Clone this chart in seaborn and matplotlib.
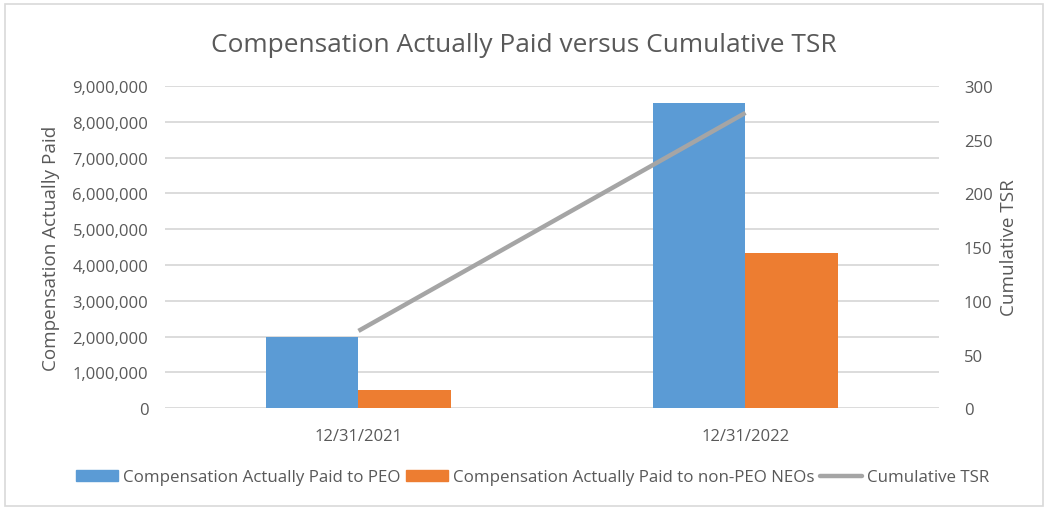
import matplotlib
matplotlib.use("Agg")
import matplotlib.pyplot as plt
import matplotlib.patches as mpatches
import numpy as np
import pandas as pd
import seaborn as sns

# data
dates = ["12/31/2021", "12/31/2022"]
peo_cap = [1980000, 8535000]
non_peo_cap = [520000, 4335000]
cumulative_tsr = [72, 275]

series_names = ["Compensation Actually Paid to PEO",
                "Compensation Actually Paid to non-PEO NEOs"]
tsr_name = "Cumulative TSR"

BLUE = "#5B9BD5"
ORANGE = "#ED7D31"
GRAY = "#A5A5A5"
TEXT = "#595959"
GRID = "#D9D9D9"

sns.set_theme(style="white")
plt.rcParams["font.family"] = ["Open Sans", "DejaVu Sans"]
plt.rcParams["text.color"] = TEXT
plt.rcParams["axes.labelcolor"] = TEXT
plt.rcParams["xtick.color"] = TEXT
plt.rcParams["ytick.color"] = TEXT

df = pd.DataFrame({
    "Date": dates * 2,
    "Value": peo_cap + non_peo_cap,
    "Series": [series_names[0]] * len(dates) + [series_names[1]] * len(dates),
})

fig = plt.figure(figsize=(10.48, 5.10), dpi=100)
ax = fig.add_axes([0.1574, 0.1975, 0.7386, 0.632])

sns.barplot(data=df, x="Date", y="Value", hue="Series",
            palette=[BLUE, ORANGE], width=0.477, gap=0, saturation=1,
            linewidth=0, ax=ax, legend=False)
ax.set_xlim(-0.5, len(dates) - 0.5)
ax.set_ylim(0, 9000000)
ax.set_yticks(np.arange(0, 9000001, 1000000))
ax.yaxis.set_major_formatter(matplotlib.ticker.StrMethodFormatter("{x:,.0f}"))
ax.grid(axis="y", color=GRID, linewidth=1.3)
ax.set_axisbelow(True)
for s in ax.spines.values():
    s.set_visible(False)
ax.tick_params(axis="both", length=0, labelsize=12, pad=12)
ax.tick_params(axis="x", pad=14)
ax.set_xlabel("")
ax.set_ylabel("Compensation Actually Paid", fontsize=13.6, labelpad=9)

ax2 = ax.twinx()
sns.lineplot(x=np.arange(len(dates)), y=cumulative_tsr, color=GRAY,
             linewidth=3.2, ax=ax2, solid_capstyle="butt")
ax2.set_ylim(0, 300)
ax2.set_yticks(np.arange(0, 301, 50))
for s in ax2.spines.values():
    s.set_visible(False)
ax2.grid(False)
ax2.tick_params(axis="y", length=0, labelsize=12, pad=18)
ax2.set_ylabel(tsr_name, fontsize=13.6, labelpad=5)

fig.text(0.5, 0.91, "Compensation Actually Paid versus Cumulative TSR",
         ha="center", va="center", fontsize=18.9, color=TEXT)

handles = [mpatches.Patch(color=BLUE, label=series_names[0]),
           mpatches.Patch(color=ORANGE, label=series_names[1]),
           plt.Line2D([], [], color=GRAY, linewidth=3.2, label=tsr_name)]
fig.legend(handles=handles, loc="center", bbox_to_anchor=(0.508, 0.062),
           ncol=3, frameon=False, fontsize=12.2, handlelength=2.5,
           handleheight=0.6, handletextpad=0.3, columnspacing=0.3)

fig.patches.append(mpatches.Rectangle((0.005, 0.006), 0.99, 0.984,
                                      transform=fig.transFigure, fill=False,
                                      edgecolor=GRID, linewidth=1.2))

fig.savefig("out.png", dpi=100)
